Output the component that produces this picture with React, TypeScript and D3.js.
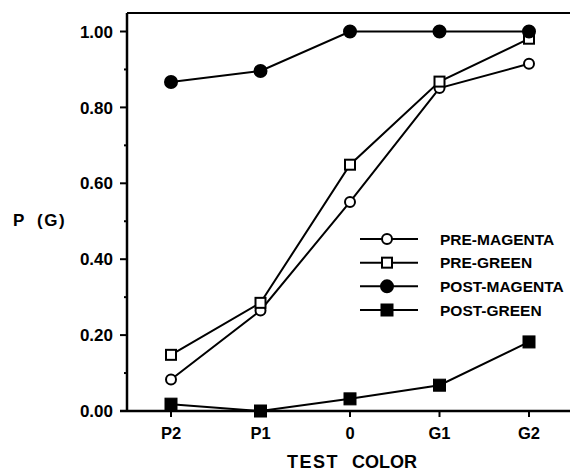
import React, { useEffect, useRef } from "react";
import * as d3 from "d3";

// test colors along the x axis
const categories = ["P2", "P1", "0", "G1", "G2"];

const preMagenta = [0.083, 0.265, 0.551, 0.851, 0.915];
const preGreen = [0.148, 0.285, 0.649, 0.868, 0.981];
const postMagenta = [0.867, 0.896, 1.0, 1.0, 1.0];
const postGreen = [0.018, 0.0, 0.032, 0.068, 0.182];

const seriesNames = ["PRE-MAGENTA", "PRE-GREEN", "POST-MAGENTA", "POST-GREEN"];
const majorTicks = [0, 0.2, 0.4, 0.6, 0.8, 1.0];
const minorTicks = [0.1, 0.3, 0.5, 0.7, 0.9];

const W = 570;
const H = 474;
const FONT = "'Liberation Sans', Arial, sans-serif";

export default function App() {
  const svgRef = useRef<SVGSVGElement | null>(null);

  useEffect(() => {
    if (!svgRef.current) return;
    const svg = d3.select(svgRef.current);
    svg.selectAll("*").remove();

    const left = 127;
    const top = 13;
    const bottom = 411;

    const x = d3.scalePoint<string>().domain(categories).range([171, 529]);
    const y = d3.scaleLinear().domain([0, 1]).range([bottom, 31.5]);

    // frame: top line, left axis, bottom axis (open on right)
    svg.append("line")
      .attr("x1", left).attr("y1", top).attr("x2", W).attr("y2", top)
      .attr("stroke", "#000").attr("stroke-width", 2);
    svg.append("line")
      .attr("x1", left).attr("y1", top).attr("x2", left).attr("y2", bottom)
      .attr("stroke", "#000").attr("stroke-width", 2.5);
    svg.append("line")
      .attr("x1", left - 7).attr("y1", bottom).attr("x2", W).attr("y2", bottom)
      .attr("stroke", "#000").attr("stroke-width", 2.5);

    // y ticks
    majorTicks.forEach(t => {
      svg.append("line")
        .attr("x1", left - 7).attr("x2", left).attr("y1", y(t)).attr("y2", y(t))
        .attr("stroke", "#000").attr("stroke-width", 2);
      svg.append("text")
        .attr("x", 113).attr("y", y(t)).attr("dy", "0.36em")
        .attr("text-anchor", "end")
        .attr("font-family", FONT).attr("font-weight", "bold").attr("font-size", 17)
        .text(d3.format(".2f")(t));
    });
    minorTicks.forEach(t => {
      svg.append("line")
        .attr("x1", left - 3).attr("x2", left).attr("y1", y(t)).attr("y2", y(t))
        .attr("stroke", "#000").attr("stroke-width", 2);
    });

    // x ticks
    categories.forEach(c => {
      svg.append("line")
        .attr("x1", x(c)!).attr("x2", x(c)!).attr("y1", bottom).attr("y2", bottom + 6)
        .attr("stroke", "#000").attr("stroke-width", 2);
      svg.append("text")
        .attr("x", x(c)!).attr("y", 433).attr("dy", "0.36em")
        .attr("text-anchor", "middle")
        .attr("font-family", FONT).attr("font-weight", "bold").attr("font-size", 16.5)
        .text(c);
    });

    // axis titles
    svg.append("text")
      .attr("x", 13).attr("y", 219.5).attr("dy", "0.36em")
      .attr("font-family", FONT).attr("font-weight", "bold").attr("font-size", 17)
      .text("P");
    svg.append("text")
      .attr("x", 37).attr("y", 219.5).attr("dy", "0.36em")
      .attr("font-family", FONT).attr("font-weight", "bold").attr("font-size", 17)
      .attr("letter-spacing", 1.5)
      .text("(G)");
    svg.append("text")
      .attr("x", 287).attr("y", 461.5).attr("dy", "0.36em")
      .attr("font-family", FONT).attr("font-weight", "bold").attr("font-size", 18)
      .attr("letter-spacing", 1.5)
      .text("TEST");
    svg.append("text")
      .attr("x", 352).attr("y", 461.5).attr("dy", "0.36em")
      .attr("font-family", FONT).attr("font-weight", "bold").attr("font-size", 18)
      .text("COLOR");

    const series = [
      { name: seriesNames[0], values: preMagenta, shape: "circle", filled: false },
      { name: seriesNames[1], values: preGreen, shape: "square", filled: false },
      { name: seriesNames[2], values: postMagenta, shape: "circle", filled: true },
      { name: seriesNames[3], values: postGreen, shape: "square", filled: true },
    ];

    const line = d3.line<number>()
      .x((_, i) => x(categories[i])!)
      .y(d => y(d));

    const drawMarker = (g: any, cx: number, cy: number, shape: string, filled: boolean) => {
      if (shape === "circle") {
        g.append("circle")
          .attr("cx", cx).attr("cy", cy).attr("r", filled ? 6 : 5)
          .attr("fill", filled ? "#000" : "#fff")
          .attr("stroke", "#000").attr("stroke-width", 2);
      } else {
        const s = filled ? 12 : 10;
        g.append("rect")
          .attr("x", cx - s / 2).attr("y", cy - s / 2).attr("width", s).attr("height", s)
          .attr("fill", filled ? "#000" : "#fff")
          .attr("stroke", "#000").attr("stroke-width", filled ? 1 : 2);
      }
    };

    // lines first, then markers
    series.forEach(s => {
      svg.append("path")
        .datum(s.values)
        .attr("d", line)
        .attr("fill", "none")
        .attr("stroke", "#000")
        .attr("stroke-width", 2);
    });
    series.forEach(s => {
      s.values.forEach((v, i) => drawMarker(svg, x(categories[i])!, y(v), s.shape, s.filled));
    });

    // legend
    const legY = d3.scaleLinear().domain([0, 3]).range([239, 310]);
    series.forEach((s, i) => {
      const ly = legY(i);
      svg.append("line")
        .attr("x1", 360).attr("x2", 418).attr("y1", ly).attr("y2", ly)
        .attr("stroke", "#000").attr("stroke-width", 2);
      drawMarker(svg, 387, ly, s.shape, s.filled);
      svg.append("text")
        .attr("x", 440).attr("y", ly).attr("dy", "0.36em")
        .attr("font-family", FONT).attr("font-weight", "bold").attr("font-size", 15.5)
        .text(s.name);
    });
  }, []);

  return (
    <svg
      ref={svgRef}
      width={W}
      height={H}
      style={{ position: "absolute", left: 0, top: 0, background: "#fff" }}
    />
  );
}
